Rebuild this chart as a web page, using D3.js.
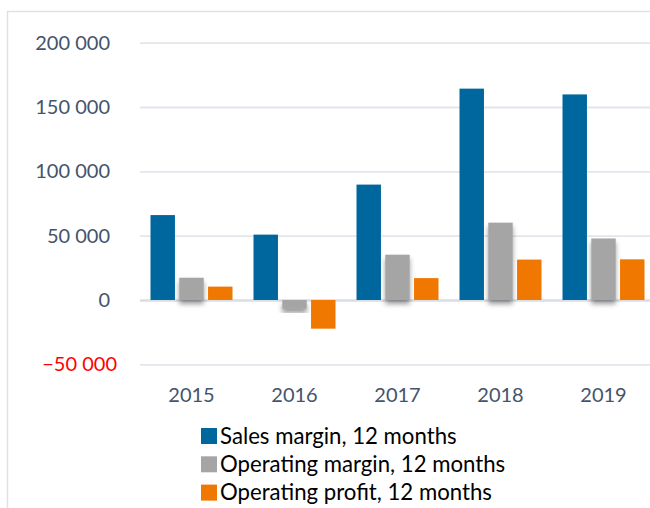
<!DOCTYPE html>
<html>
<head>
<meta charset="utf-8">
<script src="https://cdn.jsdelivr.net/npm/d3@7"></script>
<style>
  body { margin: 0; background: #fff; }
  text { font-family: Lato, "Open Sans", sans-serif; }
</style>
</head>
<body>
<div id="chart"></div>
<script>
// chart data
const years = ["2015", "2016", "2017", "2018", "2019"];
const seriesNames = ["Sales margin, 12 months", "Operating margin, 12 months", "Operating profit, 12 months"];
const salesMargin = [66000, 50800, 89700, 164300, 159800];
const operatingMargin = [17300, -6900, 35200, 60100, 47800];
const operatingProfit = [10400, -22300, 17000, 31400, 31600];
const yTicks = [-50000, 0, 50000, 100000, 150000, 200000];
const colors = ["#00669e", "#a5a5a5", "#f07800"];

const width = 650, height = 508;

let svg = d3.select("#chart")
    .append("svg")
    .attr("width", width)
    .attr("height", height);

// shadow for the grey bars
svg.append("defs").append("filter")
    .attr("id", "shadow")
    .attr("x", "-20%").attr("y", "-20%")
    .attr("width", "140%").attr("height", "160%")
    .append("feDropShadow")
    .attr("dx", 0).attr("dy", 4)
    .attr("stdDeviation", 2.5)
    .attr("flood-color", "#000")
    .attr("flood-opacity", 0.4);

// frame (cut off on the right and bottom)
svg.append("path")
    .attr("d", `M7.5,${height} V11.5 H${width}`)
    .attr("fill", "none")
    .attr("stroke", "#dde2e8")
    .attr("stroke-width", 1.5);

let y = d3.scaleLinear()
    .domain([-50000, 200000])
    .range([364.3, 42.7]);

let x0 = d3.scaleBand()
    .domain(years)
    .range([140, 655]);

let x1 = d3.scaleBand()
    .domain(d3.range(seriesNames.length))
    .range([10.5, x0.bandwidth() - 10.5])
    .paddingInner(0.15);

// gridlines + y labels
let yAxis = svg.append("g")
    .attr("transform", "translate(140,0)")
    .call(d3.axisLeft(y).tickValues(yTicks)
        .tickSize(-(width - 140))
        .tickPadding(30)
        .tickFormat(d => d3.format(",")(d).replace(/,/g, " ")));
yAxis.select(".domain").remove();
yAxis.selectAll("line")
    .attr("stroke", d => d === 0 ? "#d9dee5" : "#e2e6eb")
    .attr("stroke-width", d => d === 0 ? 2.5 : 1.8);
yAxis.selectAll("text")
    .attr("fill", d => d < 0 ? "#ff0000" : "#44546a")
    .attr("dx", d => d < 0 ? 7 : 0)
    .style("font-size", "20px");

// bars
const table = years.map((yr, i) => ({
    year: yr,
    values: [salesMargin[i], operatingMargin[i], operatingProfit[i]]
}));

let groups = svg.selectAll(".grp").data(table)
    .enter().append("g")
    .attr("class", "grp")
    .attr("transform", d => `translate(${x0(d.year)},0)`);

groups.selectAll("rect")
    .data(d => d.values.map((v, k) => ({ k: k, v: v })))
    .enter().append("rect")
    .attr("x", d => x1(d.k))
    .attr("width", x1.bandwidth())
    .attr("y", d => y(Math.max(0, d.v)))
    .attr("height", d => Math.abs(y(d.v) - y(0)))
    .attr("fill", d => colors[d.k])
    .attr("filter", d => d.k === 1 ? "url(#shadow)" : null);

// x labels
svg.append("g").selectAll("text").data(years)
    .enter().append("text")
    .attr("x", d => x0(d) + x0.bandwidth() / 2)
    .attr("y", 402)
    .attr("text-anchor", "middle")
    .attr("fill", "#44546a")
    .style("font-size", "20px")
    .text(d => d);

// legend
let legend = svg.append("g").selectAll("g").data(seriesNames)
    .enter().append("g")
    .attr("transform", (d, i) => `translate(201,${428 + i * 28.3})`);
legend.append("rect")
    .attr("width", 16).attr("height", 16)
    .attr("fill", (d, i) => colors[i]);
legend.append("text")
    .attr("x", 19)
    .attr("y", 15.5)
    .attr("fill", "#000")
    .style("font-size", "22.2px")
    .text(d => d);
</script>
</body>
</html>
